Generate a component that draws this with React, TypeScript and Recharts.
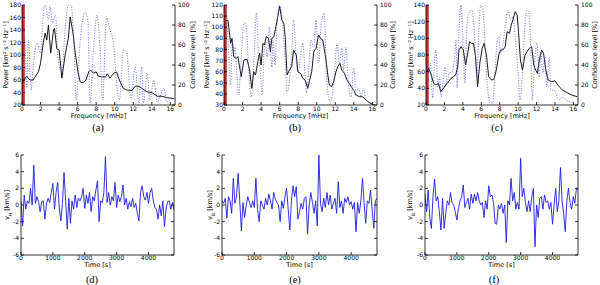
import React from 'react';
import { LineChart, Line, XAxis, YAxis, ReferenceArea } from 'recharts';

// ---------- tick labels ----------
const freqTicks = [0, 2, 4, 6, 8, 10, 12, 14, 16];
const confTicks = [0, 20, 40, 60, 80, 100];
const powerTicksA = [20, 40, 60, 80, 100, 120, 140, 160, 180];
const powerTicksB = [30, 40, 50, 60, 70, 80, 90, 100, 110, 120];
const powerTicksC = [20, 40, 60, 80, 100, 120, 140];
const timeTicks = [0, 1000, 2000, 3000, 4000];
const velTicks = [-6, -4, -2, 0, 2, 4, 6];

// ---------- panel (a) ----------
const powerFreqA = [0, 0.5, 0.86, 1.2, 1.77, 2.0, 2.3, 2.5, 2.67, 2.85, 3.1, 3.4, 3.5, 3.75, 4.0, 4.3, 4.65, 5.0, 5.2, 5.5, 5.7, 6.0, 6.27, 6.6, 6.9, 7.2, 7.4, 7.7, 8.0, 8.25, 8.6, 9.0, 9.2, 9.5, 9.9, 10.2, 10.5, 10.9, 11.3, 11.85, 12.2, 12.6, 12.9, 13.5, 14.0, 14.6, 15.1, 15.6, 16.4];
const powerA = [55, 66, 60, 60, 73, 87, 120, 135, 124, 148, 103, 140, 143, 110, 108, 63, 100, 127, 161, 135, 108, 76, 57, 56, 60, 73, 76, 71, 73, 66, 65, 65, 70, 63, 71, 73, 60, 47, 44, 43, 50, 50, 47, 41, 40, 34, 34, 32, 30];
const confFreqA = [0, 0.3, 0.5, 0.7, 1.0, 1.2, 1.6, 2.0, 2.3, 2.5, 2.85, 3.0, 3.3, 3.6, 3.9, 4.3, 4.65, 5.0, 5.3, 5.55, 5.85, 6.2, 6.8, 7.1, 7.35, 7.7, 8.1, 8.4, 8.7, 9.1, 9.5, 9.9, 10.2, 10.5, 10.95, 11.3, 11.75, 12.2, 12.6, 12.9, 13.1, 13.5, 13.8, 14.2, 14.6, 15.3, 15.6, 16.2];
const confA = [22, 67, 17, 65, 15, 38, 62, 52, 92, 100, 85, 98, 82, 90, 45, 33, 75, 100, 100, 72, 5, 55, 93, 85, 2, 55, 90, 58, 5, 87, 75, 58, 22, 5, 55, 52, 5, 38, 2, 38, 2, 32, 5, 25, 3, 17, 3, 8];

// ---------- panel (b) ----------
const powerFreqB = [0.25, 0.43, 0.72, 0.86, 1.04, 1.33, 1.5, 1.86, 2.15, 2.5, 2.76, 3.0, 3.2, 3.4, 3.65, 3.84, 4.0, 4.2, 4.37, 4.55, 4.8, 5.0, 5.16, 5.38, 5.6, 5.8, 6.0, 6.24, 6.45, 6.6, 6.8, 7.06, 7.3, 7.5, 7.8, 7.96, 8.25, 8.5, 8.75, 9.03, 9.2, 9.46, 9.68, 9.93, 10.2, 10.4, 10.65, 10.8, 11.0, 11.2, 11.36, 11.6, 11.83, 12.08, 12.26, 12.5, 12.7, 13.0, 13.26, 13.5, 13.76, 14.0, 14.23, 14.6, 14.95, 15.3, 15.7, 16.2];
const powerB = [106, 106, 85.5, 90, 73.5, 72, 73.5, 55.5, 70.5, 71, 61.5, 45, 60, 57, 69, 76.5, 66, 85.5, 84, 91.5, 90, 78, 90, 91.5, 100.5, 109.5, 119, 106.5, 103.5, 91.5, 57, 61.5, 64.5, 79.5, 75, 60, 58.5, 54, 52.5, 45, 51, 60, 78, 81, 93, 90, 88.5, 81, 70.5, 57, 48, 46.5, 51, 60, 64.5, 67.5, 61.5, 58.5, 52.5, 49.5, 46, 43, 39, 37.5, 37.5, 34.5, 32, 30];
const confFreqB = [0.07, 0.3, 0.54, 0.72, 0.9, 1.07, 1.2, 1.4, 1.58, 1.8, 2.15, 2.4, 2.65, 2.94, 3.2, 3.5, 3.73, 3.9, 4.12, 4.3, 4.48, 4.66, 4.9, 5.16, 5.3, 5.5, 5.7, 6.0, 6.16, 6.34, 6.6, 6.8, 7.06, 7.35, 7.5, 7.8, 8.0, 8.25, 8.5, 8.7, 8.9, 9.1, 9.4, 9.7, 9.93, 10.2, 10.5, 10.8, 11.1, 11.5, 11.83, 12.2, 12.45, 12.7, 12.9, 13.15, 13.4, 13.7, 14.0, 14.23, 14.5, 14.8, 15.05, 15.3, 15.8, 16.2];
const confB = [100, 85, 47, 20, 65, 52, 58, 28, 10, 38, 83, 78, 38, 8, 38, 92, 48, 35, 10, 50, 63, 48, 78, 38, 65, 40, 78, 100, 95, 78, 45, 12, 25, 62, 85, 45, 32, 48, 62, 38, 12, 32, 65, 58, 85, 42, 83, 92, 22, 3, 22, 62, 42, 57, 35, 58, 23, 8, 37, 13, 17, 8, 17, 5, 2, 0];

// ---------- panel (c) ----------
const powerFreqC = [0.1, 0.29, 0.57, 0.82, 1.07, 1.36, 1.6, 1.9, 2.15, 2.44, 2.72, 2.97, 3.22, 3.44, 3.58, 3.8, 4.05, 4.3, 4.5, 4.73, 4.95, 5.16, 5.38, 5.6, 5.84, 6.1, 6.3, 6.56, 6.8, 7.1, 7.38, 7.63, 7.9, 8.1, 8.35, 8.6, 8.8, 9.07, 9.25, 9.43, 9.68, 9.9, 10.04, 10.25, 10.47, 10.75, 10.97, 11.2, 11.47, 11.7, 11.9, 12.1, 12.3, 12.55, 12.76, 13.0, 13.26, 13.6, 14.0, 14.3, 14.8, 15.3, 15.8, 16.4];
const powerC = [60, 64, 56, 46, 44, 46, 36, 40, 44, 48, 52, 54, 56, 66, 86, 90, 86, 68, 80, 96, 94, 94, 78, 42, 70, 88, 94, 80, 54, 50, 51, 62, 80, 86, 86, 90, 108, 106, 116, 122, 132, 128, 108, 74, 62, 80, 84, 88, 90, 68, 62, 58, 74, 86, 82, 62, 50, 48, 49, 44, 38, 35, 32, 30];
const confFreqC = [0.1, 0.3, 0.47, 0.72, 0.93, 1.07, 1.3, 1.47, 1.65, 1.83, 2.08, 2.3, 2.5, 2.8, 3.08, 3.26, 3.37, 3.58, 3.8, 4.05, 4.23, 4.44, 4.66, 5.0, 5.3, 5.52, 5.73, 5.95, 6.16, 6.3, 6.52, 6.74, 6.95, 7.24, 7.46, 7.74, 7.9, 8.1, 8.35, 8.6, 8.9, 9.17, 9.43, 9.68, 9.96, 10.2, 10.5, 10.75, 10.97, 11.2, 11.4, 11.54, 11.75, 12.04, 12.3, 12.47, 12.7, 12.9, 13.12, 13.37, 13.55, 13.84, 14.08, 14.45, 14.8, 15.16, 15.6, 16.05];
const confC = [53, 32, 42, 7, 45, 55, 18, 28, 8, 22, 38, 22, 32, 33, 45, 65, 17, 72, 100, 55, 22, 78, 92, 95, 65, 28, 72, 100, 97, 82, 38, 12, 2, 2, 28, 65, 68, 52, 62, 78, 95, 85, 88, 68, 38, 5, 38, 82, 95, 92, 45, 5, 38, 62, 28, 52, 32, 48, 18, 48, 15, 15, 12, 5, 8, 5, 3, 2];

// ---------- time series (d), (e), (f): samples every 50 s from 0 to 4800 s ----------
const sampleStep = 50;
const velD = [0.5, -2.5, 1.2, -0.5, 0.5, 0.2, 2.0, 0, 4.8, 0.2,
  1.0, 0.4, -0.8, 0.4, 0.5, -1.7, 0.2, 0.8, 0.3, 1.5,
  2.6, -0.5, 1.5, 2.7, -0.3, -1.9, 0.2, 3.9, 0.5, -2.9,
  0.8, -2.2, 0.5, -0.5, 1.2, -0.3, 0.8, 0.5, 1.0, 2.0,
  -0.4, 1.2, 0.2, 1.5, -0.8, 1.0, 0.5, 1.8, 2.9, -2.0,
  0.5, 0.3, 1.5, 5.8, 0.3, 1.5, 0, 1.0, 0.5, 2.7,
  -0.3, 1.2, 0.4, 1.0, 2.4, 0, 0.8, -0.5, 0.4, -0.2,
  0.8, -0.3, 0.2, -1.0, -1.9, 1.5, 2.3, 1.0, 0.6, 1.5,
  0.2, 1.5, 2.0, 0.5, -0.3, -0.5, -1.7, 0, -1.3, 0.5,
  -2.6, -0.5, 0.4, 0.5, -0.5, 0.3, -0.6];
const velE = [0.5, 0.2, 0.8, -1.6, 1.0, 0.5, -1.0, 3.2, 0.2, 1.0,
  3.8, 0.5, -3.1, 0.3, -1.5, 0, 1.0, 0.3, -0.3, 0.5,
  -0.3, 3.2, -0.5, -2.0, 0.5, 0, -0.5, 0.8, 0, 1.3,
  0.5, -0.5, 1.5, 0.7, 0.3, 0, -2.0, 0.5, -0.4, 1.0,
  2.0, -0.5, -3.0, 0.5, 2.3, 1.0, 2.2, -1.7, -0.8, 0.2,
  -0.5, 0.8, 1.0, -3.5, 0, 1.5, 0.3, -1.0, 0.5, -2.5,
  6.0, 0.2, -0.8, 0.8, -0.3, 1.5, 0, 1.2, -0.5, 0.2,
  0.8, -1.0, 2.8, -0.3, 0.5, -1.0, 0.8, 0.3, 1.0, 0,
  0.4, -0.5, 0.3, -3.2, 0.3, -1.0, 0.5, 3.2, 0.3, -2.2,
  0.5, 0.2, 1.8, -0.5, -2.8, 0.5, 0.8];
const velF = [1.3, -0.8, 1.8, -1.5, -2.8, 1.0, 3.1, 0.5, 1.0, -0.8,
  -3.0, 0.8, -2.8, -1.0, 0.5, 0, 1.5, 0.2, 0, -0.8,
  -1.8, -0.3, 0.5, 1.0, 2.4, -0.3, 0.3, 0.8, -0.5, 1.3,
  0.2, 1.3, 0.5, 1.5, 0.5, 0, 0.3, -1.5, 0.5, -0.5,
  2.3, 1.0, 1.2, 0.3, -2.2, -2.3, 0, -0.5, 0.2, -1.0,
  0, -4.5, 0.5, 0, 3.2, 0.5, 1.5, -0.5, 0.3, -0.5,
  5.6, 1.0, 2.0, 0.3, -0.8, 0.5, -0.8, 1.0, 2.0, -5.0,
  0, -1.5, 0.8, 1.0, -0.5, 1.2, 0.3, 0.5, -0.5, 0.3,
  -2.3, 0, 2.0, -0.8, 0.5, 4.5, 0.5, -1.0, -3.2, 0.5,
  2.0, 0.3, -0.5, 1.0, 0.2, 2.0, 1.8];

// ---------- styles ----------
const FONT = 'DejaVu Sans, sans-serif';
const tickStyle = { fontSize: 6, fill: '#000', fontFamily: FONT };
const titleStyle: React.CSSProperties = { fontSize: 6.5, fill: '#000', fontFamily: FONT };

const pairs = (xs: number[], ys: number[]) => xs.map((x, i) => ({ x, y: ys[i] }));
const blank = () => '';

function Caption({ text, cx, cy }: { text: string; cx: number; cy: number }) {
  return (
    <div
      style={{
        position: 'absolute',
        left: cx - 30,
        top: cy - 7,
        width: 60,
        height: 14,
        lineHeight: '14px',
        textAlign: 'center',
        fontFamily: 'Liberation Serif, serif',
        fontSize: 10.5,
        color: '#000',
      }}
    >
      {text}
    </div>
  );
}

type TopProps = {
  left: number;
  leftW: number;
  rightW: number;
  pf: number[];
  pv: number[];
  cf: number[];
  cv: number[];
  pDomain: [number, number];
  pTicks: number[];
  powerX: number;
  confX: number;
};

function TopPanel(p: TopProps) {
  const W = 200;
  const H = 140;
  const plotL = p.leftW;
  const plotR = W - p.rightW;
  const cx = (plotL + plotR) / 2;
  const cyPlot = 55;
  return (
    <div style={{ position: 'absolute', left: p.left, top: 0, width: W, height: H }}>
      <LineChart width={W} height={H} margin={{ top: 5, right: 0, bottom: 0, left: 0 }}>
        <XAxis
          type="number"
          dataKey="x"
          domain={[0, 16.5]}
          ticks={freqTicks}
          interval={0}
          allowDataOverflow
          height={35}
          tickSize={-3}
          tickMargin={5}
          stroke="#000"
          strokeWidth={0.8}
          tick={tickStyle}
          label={{
            content: () => (
              <text x={cx} y={118} textAnchor="middle" style={titleStyle}>
                Frequency [mHz]
              </text>
            ),
          }}
        />
        <XAxis
          xAxisId="top"
          orientation="top"
          type="number"
          domain={[0, 16.5]}
          ticks={freqTicks}
          interval={0}
          allowDataOverflow
          height={0}
          tickSize={-3}
          tickFormatter={blank}
          stroke="#000"
          strokeWidth={0.8}
        />
        <YAxis
          yAxisId="p"
          type="number"
          domain={p.pDomain}
          ticks={p.pTicks}
          interval={0}
          allowDataOverflow
          width={p.leftW}
          tickSize={-3}
          tickMargin={4}
          stroke="#000"
          strokeWidth={0.8}
          tick={tickStyle}
          label={{
            content: () => (
              <text
                transform={`translate(${p.powerX},${cyPlot}) rotate(-90)`}
                textAnchor="middle"
                style={titleStyle}
              >
                Power [km² s⁻² Hz⁻¹]
              </text>
            ),
          }}
        />
        <YAxis
          yAxisId="c"
          orientation="right"
          type="number"
          domain={[0, 100]}
          ticks={confTicks}
          interval={0}
          allowDataOverflow
          width={p.rightW}
          tickSize={-3}
          tickMargin={6}
          stroke="#000"
          strokeWidth={0.8}
          tick={tickStyle}
          label={{
            content: () => (
              <text
                transform={`translate(${p.confX},${cyPlot}) rotate(-90)`}
                textAnchor="middle"
                style={titleStyle}
              >
                Confidence level [%]
              </text>
            ),
          }}
        />
        <ReferenceArea
          yAxisId="p"
          x1={0}
          x2={0.3}
          fill="#cc2a2a"
          fillOpacity={1}
          stroke="none"
          ifOverflow="hidden"
        />
        <Line
          yAxisId="p"
          data={pairs(p.pf, p.pv)}
          dataKey="y"
          type="linear"
          stroke="#000"
          strokeWidth={0.9}
          dot={false}
          activeDot={false}
          isAnimationActive={false}
        />
        <Line
          yAxisId="c"
          data={pairs(p.cf, p.cv)}
          dataKey="y"
          type="monotone"
          stroke="#4a4adc"
          strokeWidth={0.8}
          strokeDasharray="1 1.6"
          dot={false}
          activeDot={false}
          isAnimationActive={false}
        />
      </LineChart>
    </div>
  );
}

type BottomProps = {
  left: number;
  leftW: number;
  rightW: number;
  values: number[];
  sub: string;
  labelX: number;
};

function BottomPanel(p: BottomProps) {
  const W = 200;
  const H = 145;
  const plotL = p.leftW;
  const plotR = W - p.rightW;
  const cx = (plotL + plotR) / 2;
  const data = p.values.map((v, i) => ({ x: i * sampleStep, y: v }));
  return (
    <div style={{ position: 'absolute', left: p.left, top: 140, width: W, height: H }}>
      <LineChart width={W} height={H} data={data} margin={{ top: 15, right: 0, bottom: 0, left: 0 }}>
        <XAxis
          type="number"
          dataKey="x"
          domain={[0, 4800]}
          ticks={timeTicks}
          interval={0}
          allowDataOverflow
          height={30}
          tickSize={-3}
          tickMargin={4}
          stroke="#000"
          strokeWidth={0.8}
          tick={tickStyle}
          label={{
            content: () => (
              <text x={cx} y={126.5} textAnchor="middle" style={titleStyle}>
                Time [s]
              </text>
            ),
          }}
        />
        <XAxis
          xAxisId="top"
          orientation="top"
          type="number"
          domain={[0, 4800]}
          ticks={timeTicks}
          interval={0}
          allowDataOverflow
          height={0}
          tickSize={-3}
          tickFormatter={blank}
          stroke="#000"
          strokeWidth={0.8}
        />
        <YAxis
          yAxisId="v"
          type="number"
          domain={[-6, 6]}
          ticks={velTicks}
          interval={0}
          allowDataOverflow
          width={p.leftW}
          tickSize={-3}
          tickMargin={5}
          stroke="#000"
          strokeWidth={0.8}
          tick={tickStyle}
          label={{
            content: () => (
              <text
                transform={`translate(${p.labelX},65) rotate(-90)`}
                textAnchor="middle"
                style={titleStyle}
              >
                v<tspan baselineShift="sub" fontSize={4.5}>{p.sub}</tspan> [km/s]
              </text>
            ),
          }}
        />
        <YAxis
          yAxisId="r"
          orientation="right"
          type="number"
          domain={[-6, 6]}
          ticks={velTicks}
          interval={0}
          allowDataOverflow
          width={p.rightW}
          tickSize={-3}
          tickFormatter={blank}
          stroke="#000"
          strokeWidth={0.8}
        />
        <Line
          yAxisId="v"
          dataKey="y"
          type="linear"
          stroke="#1c1ce0"
          strokeWidth={0.9}
          dot={false}
          activeDot={false}
          isAnimationActive={false}
        />
      </LineChart>
    </div>
  );
}

export default function App() {
  return (
    <div
      style={{
        position: 'absolute',
        left: 0,
        top: 0,
        width: 600,
        height: 285,
        background: '#fff',
        overflow: 'hidden',
      }}
    >
      <TopPanel left={0} leftW={22} rightW={25} pf={powerFreqA} pv={powerA} cf={confFreqA} cv={confA}
        pDomain={[20, 180]} pTicks={powerTicksA} powerX={8} confX={195} />
      <TopPanel left={200} leftW={24} rightW={23} pf={powerFreqB} pv={powerB} cf={confFreqB} cv={confB}
        pDomain={[30, 120]} pTicks={powerTicksB} powerX={9} confX={195} />
      <TopPanel left={400} leftW={26} rightW={22} pf={powerFreqC} pv={powerC} cf={confFreqC} cv={confC}
        pDomain={[20, 140]} pTicks={powerTicksC} powerX={12.5} confX={197} />

      <BottomPanel left={0} leftW={21} rightW={26} values={velD} sub="H" labelX={8.5} />
      <BottomPanel left={200} leftW={22} rightW={23} values={velE} sub="B" labelX={11.5} />
      <BottomPanel left={400} leftW={25} rightW={22} values={velF} sub="B" labelX={12} />

      <Caption text="(a)" cx={98} cy={128} />
      <Caption text="(b)" cx={295} cy={128} />
      <Caption text="(c)" cx={497} cy={128} />
      <Caption text="(d)" cx={92} cy={280} />
      <Caption text="(e)" cx={295} cy={280} />
      <Caption text="(f)" cx={494} cy={280} />
    </div>
  );
}
